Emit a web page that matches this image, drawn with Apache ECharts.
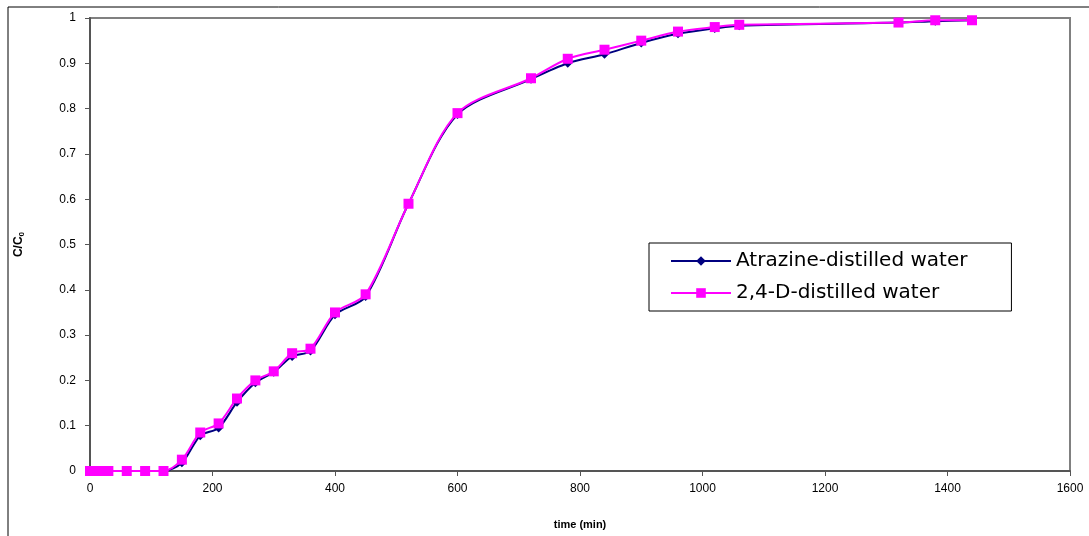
<!DOCTYPE html>
<html lang="en">
<head>
    <meta charset="UTF-8">
    <title>C/C0 vs time</title>
    <script src="https://cdn.jsdelivr.net/npm/echarts@6/dist/echarts.min.js"></script>
    <style>
        html, body { margin: 0; padding: 0; background: #fff; }
        #chart { width: 1089px; height: 536px; }
    </style>
</head>
<body>
<div id="chart"></div>
<script>
    // time (min)
    var timeList = [0, 15, 30, 60, 90, 120, 150, 180, 210, 240, 270, 300, 330, 360, 400, 450, 520, 600, 720, 780, 840, 900, 960, 1020, 1060, 1320, 1380, 1440];
    // C/C0
    var atrazineList = [0, 0, 0, 0, 0, 0, 0.018, 0.078, 0.095, 0.152, 0.195, 0.218, 0.253, 0.265, 0.345, 0.385, 0.59, 0.787, 0.865, 0.9, 0.92, 0.945, 0.965, 0.977, 0.983, 0.99, 0.993, 0.995];
    var dList = [0, 0, 0, 0, 0, 0, 0.025, 0.085, 0.105, 0.16, 0.2, 0.22, 0.26, 0.27, 0.35, 0.39, 0.59, 0.79, 0.867, 0.91, 0.93, 0.95, 0.97, 0.98, 0.985, 0.99, 0.995, 0.995];
    var seriesNames = ['Atrazine-distilled water', '2,4-D-distilled water'];

    function pairs(ys) {
        return timeList.map(function (t, i) { return [t, ys[i]]; });
    }

    var option = {
        backgroundColor: '#fff',
        animation: false,
        grid: { left: 90, right: 19, top: 18, bottom: 65, show: true, borderColor: '#808080', borderWidth: 2 },
        graphic: [{
            type: 'rect',
            shape: { x: 8, y: 7, width: 1100, height: 560 },
            style: { fill: 'none', stroke: '#000', lineWidth: 1 },
            silent: true
        }],
        legend: {
            orient: 'vertical',
            left: 649,
            top: 243,
            padding: [8, 44, 8, 21],
            itemGap: 12,
            itemWidth: 60,
            itemHeight: 12,
            borderColor: '#000',
            borderWidth: 1,
            backgroundColor: '#fff',
            textStyle: { fontFamily: 'DejaVu Sans', fontSize: 20, lineHeight: 20, color: '#000' },
            data: seriesNames
        },
        xAxis: {
            type: 'value',
            min: 0, max: 1600, interval: 200,
            name: 'time (min)',
            nameLocation: 'middle',
            nameGap: 48,
            nameTextStyle: { fontFamily: 'Arial', fontSize: 11, fontWeight: 'bold', color: '#000' },
            axisLine: { show: true, lineStyle: { color: '#555', width: 2 } },
            axisTick: { show: true, length: 5, lineStyle: { color: '#555' } },
            axisLabel: {
                fontFamily: 'Liberation Sans Narrow, Arial', fontSize: 12, color: '#000', margin: 12,
                formatter: function (v) { return String(v); }
            },
            splitLine: { show: false }
        },
        yAxis: {
            type: 'value',
            min: 0, max: 1, interval: 0.1,
            name: '{a|C/C}{b|0}',
            nameLocation: 'middle',
            nameGap: 64,
            nameRotate: 90,
            nameTextStyle: {
                rich: {
                    a: { fontFamily: 'Arial', fontSize: 12, fontWeight: 'bold', color: '#000' },
                    b: { fontFamily: 'Arial', fontSize: 8, fontWeight: 'bold', color: '#000', verticalAlign: 'bottom', padding: [6, 0, 0, 0] }
                }
            },
            axisLine: { show: true, lineStyle: { color: '#555', width: 2 } },
            axisTick: { show: true, length: 5, lineStyle: { color: '#555' } },
            axisLabel: { fontFamily: 'Arial', fontSize: 12, color: '#000', margin: 14 },
            splitLine: { show: false }
        },
        series: [{
            name: seriesNames[0],
            type: 'line',
            smooth: 0.3,
            data: pairs(atrazineList),
            symbol: 'diamond',
            symbolSize: 9,
            itemStyle: { color: '#000080' },
            lineStyle: { color: '#000080', width: 2 }
        }, {
            name: seriesNames[1],
            type: 'line',
            smooth: 0.3,
            data: pairs(dList),
            symbol: 'rect',
            symbolSize: 10,
            itemStyle: { color: '#ff00ff' },
            lineStyle: { color: '#ff00ff', width: 2 }
        }]
    };

    var mychart = echarts.init(document.getElementById('chart'));
    mychart.setOption(option);
</script>
</body>
</html>
